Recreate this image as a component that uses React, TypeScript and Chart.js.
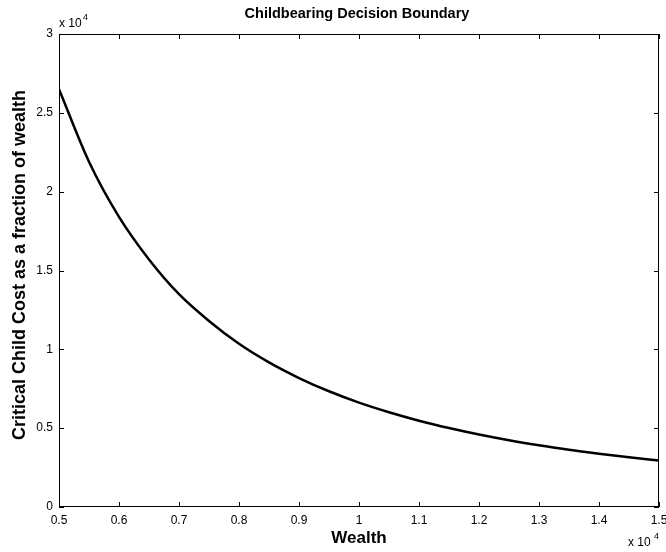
import React, { useEffect, useRef } from "react";
import { Chart, registerables } from "chart.js";

Chart.register(...registerables);

// Wealth values and the critical child cost read along the boundary
const wealth = [
  5000, 5500, 6000, 6500, 7000, 7500, 8000, 8500, 9000, 9500, 10000,
  10500, 11000, 11500, 12000, 12500, 13000, 13500, 14000, 14500, 15000,
];
const criticalCost = [
  26500, 21900, 18400, 15700, 13500, 11800, 10350, 9170, 8180, 7340, 6620,
  6010, 5475, 5010, 4600, 4240, 3920, 3630, 3380, 3150, 2945,
];
const xTicks = [5000, 6000, 7000, 8000, 9000, 10000, 11000, 12000, 13000, 14000, 15000];
const yTicks = [0, 5000, 10000, 15000, 20000, 25000, 30000];

const FONT = "'Liberation Sans', Arial, Helvetica, sans-serif";

const fmt = (v: number) => {
  const s = (v / 10000).toFixed(1);
  return s.endsWith(".0") ? s.slice(0, -2) : s;
};

// Frame, inward ticks, titles and exponent labels in the classic plot style
const framePlugin = {
  id: "frame",
  afterDraw(chart: any) {
    const { ctx, chartArea: a, scales } = chart;
    const xs = scales.x;
    const ys = scales.y;
    ctx.save();
    ctx.strokeStyle = "#000";
    ctx.lineWidth = 1;
    ctx.strokeRect(a.left + 0.5, a.top + 0.5, a.right - a.left - 1, a.bottom - a.top - 1);
    const tl = 5;
    ctx.beginPath();
    for (const t of xTicks) {
      const px = Math.round(xs.getPixelForValue(t)) + 0.5;
      ctx.moveTo(px, a.bottom);
      ctx.lineTo(px, a.bottom - tl);
      ctx.moveTo(px, a.top);
      ctx.lineTo(px, a.top + tl);
    }
    for (const t of yTicks) {
      const py = Math.round(ys.getPixelForValue(t)) + 0.5;
      ctx.moveTo(a.left, py);
      ctx.lineTo(a.left + tl, py);
      ctx.moveTo(a.right, py);
      ctx.lineTo(a.right - tl, py);
    }
    ctx.stroke();

    ctx.fillStyle = "#000";
    // tick labels
    ctx.font = `12px ${FONT}`;
    ctx.textAlign = "right";
    ctx.textBaseline = "middle";
    for (const t of yTicks) {
      ctx.fillText(fmt(t), a.left - 6, ys.getPixelForValue(t));
    }
    ctx.textAlign = "center";
    ctx.textBaseline = "top";
    for (const t of xTicks) {
      ctx.fillText(fmt(t), xs.getPixelForValue(t), a.bottom + 8);
    }

    // exponent markers
    ctx.textAlign = "left";
    ctx.textBaseline = "alphabetic";
    ctx.font = `12px ${FONT}`;
    ctx.fillText("x 10", a.left, a.top - 7);
    ctx.font = `9px ${FONT}`;
    ctx.fillText("4", a.left + 24, a.top - 14);
    ctx.font = `12px ${FONT}`;
    ctx.fillText("x 10", a.right - 31, a.bottom + 39);
    ctx.font = `9px ${FONT}`;
    ctx.fillText("4", a.right - 5, a.bottom + 32);

    // titles
    const cx = (a.left + a.right) / 2;
    ctx.textAlign = "center";
    ctx.textBaseline = "middle";
    ctx.font = `bold 14.5px ${FONT}`;
    ctx.fillText("Childbearing Decision Boundary", cx - 2, 14);
    ctx.font = `bold 17px ${FONT}`;
    ctx.fillText("Wealth", cx, a.bottom + 31);
    ctx.save();
    ctx.translate(20, 265);
    ctx.rotate(-Math.PI / 2);
    ctx.font = `bold 18px ${FONT}`;
    ctx.fillText("Critical Child Cost as a fraction of wealth", 0, 0);
    ctx.restore();
    ctx.restore();
  },
};

export default function App() {
  const ref = useRef<HTMLCanvasElement | null>(null);

  useEffect(() => {
    if (!ref.current) return;
    const chart = new Chart(ref.current, {
      type: "line",
      data: {
        datasets: [
          {
            data: wealth.map((w, i) => ({ x: w, y: criticalCost[i] })),
            borderColor: "#000",
            borderWidth: 2.5,
            pointRadius: 0,
            fill: false,
            cubicInterpolationMode: "monotone",
          },
        ],
      },
      options: {
        animation: false,
        responsive: false,
        maintainAspectRatio: false,
        layout: { padding: { left: 0, top: 34, right: 7, bottom: 0 } },
        plugins: {
          legend: { display: false },
          title: { display: false },
          tooltip: { enabled: false },
        },
        scales: {
          x: {
            type: "linear",
            min: 5000,
            max: 15000,
            grid: { display: false },
            border: { display: false },
            ticks: { display: false },
            afterFit: (s: any) => {
              s.height = 45;
            },
          },
          y: {
            type: "linear",
            min: 0,
            max: 30000,
            grid: { display: false },
            border: { display: false },
            ticks: { display: false },
            afterFit: (s: any) => {
              s.width = 59;
            },
          },
        },
      },
      plugins: [framePlugin],
    });
    return () => chart.destroy();
  }, []);

  return (
    <div style={{ position: "fixed", left: 0, top: 0, width: 666, height: 552, background: "#fff" }}>
      <canvas ref={ref} width={666} height={552} />
    </div>
  );
}
